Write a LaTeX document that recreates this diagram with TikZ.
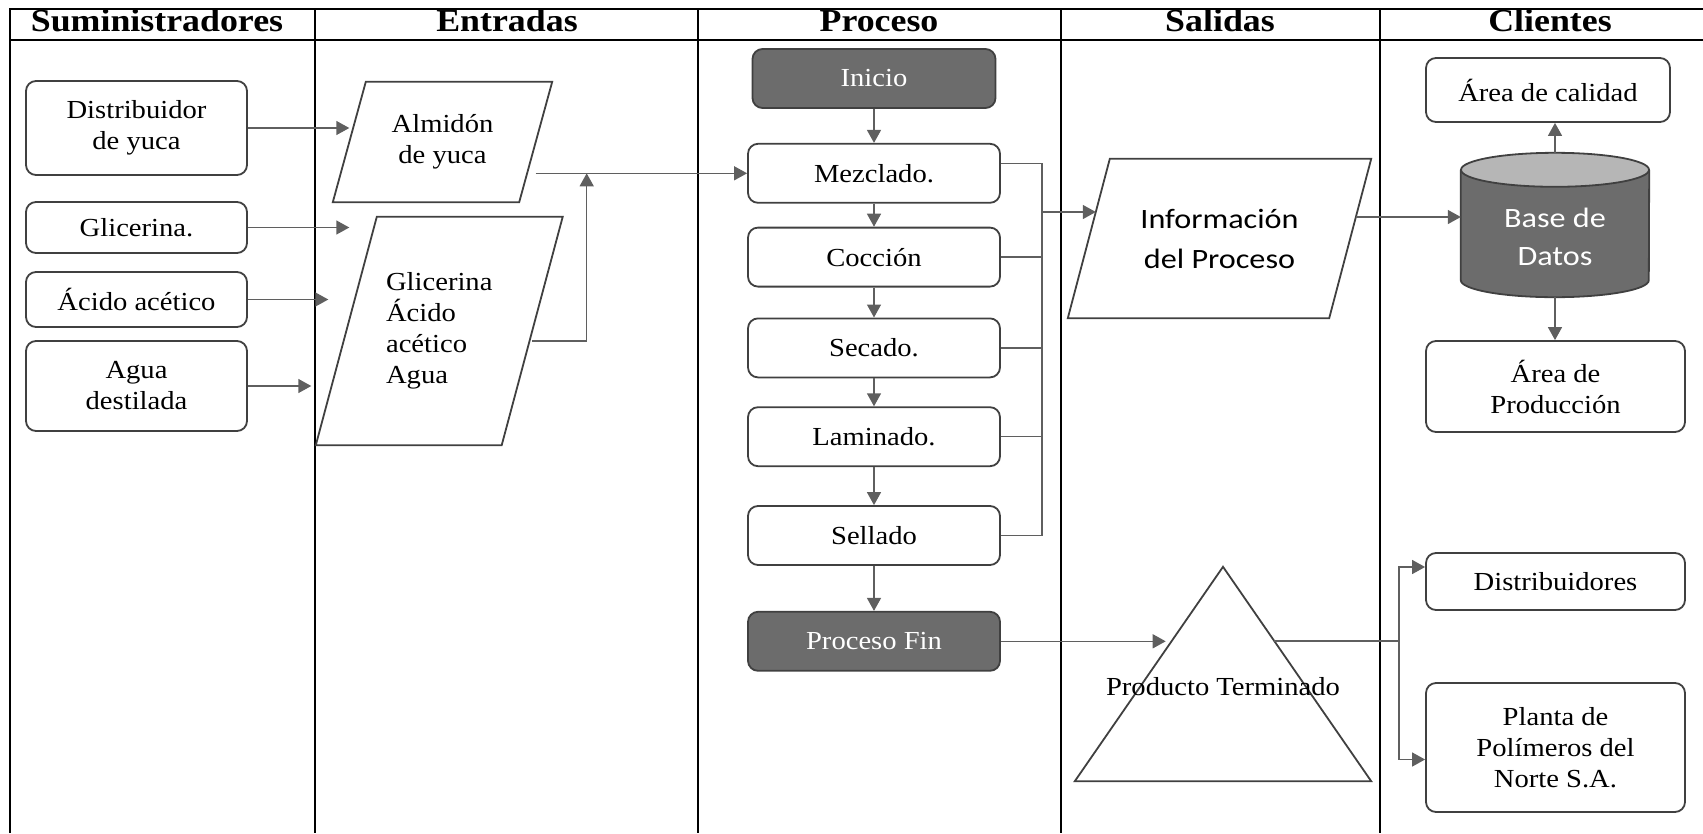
\documentclass[tikz,border=0pt]{standalone}
\usepackage{fontspec}
\setmainfont{Liberation Serif}[FakeStretch=1.1]
\newfontfamily\cabfont{Liberation Serif}[FakeStretch=1.12]
\newfontfamily\calibri{Carlito}[FakeStretch=1.15]
\usetikzlibrary{positioning, calc, arrows.meta}
\definecolor{borde}{RGB}{64,64,64}
\definecolor{gris}{RGB}{95,95,95}
\definecolor{oscuro}{RGB}{108,108,108}
\definecolor{claro}{RGB}{182,182,182}

\begin{document}
\begin{tikzpicture}[
        x=1pt, y=1pt,
        caja/.style={rectangle, draw=borde, line width=1.8pt, fill=white,
                     rounded corners=10pt, align=center, minimum width=221pt,
                     inner sep=2pt, font=\fontsize{26}{31}\selectfont},
        paso/.style={caja, minimum width=252pt, minimum height=59pt},
        extremo/.style={paso, fill=oscuro, text=white},
        cliente/.style={caja, minimum width=259pt},
        datos/.style={rectangle, align=center, inner sep=0pt,
                      font=\fontsize{26}{31}\selectfont},
        forma/.style={draw=borde, line width=1.8pt},
        cabecera/.style={font=\cabfont\bfseries\fontsize{32}{36}\selectfont, anchor=base},
        flecha/.style={-{Triangle[length=13pt, width=14pt]}, draw=gris, line width=1.4pt},
        conector/.style={draw=gris, line width=1.4pt},
        marco/.style={black, line width=1.2pt},
    ]
    \useasboundingbox (0,0) rectangle (1703,-833);

    % ---- swimlane frame ----
    \draw[marco] (10,-833) -- (10,-9) -- (1703,-9);
    \draw[marco] (10,-40) -- (1703,-40);
    \foreach \x in {315, 698, 1061, 1380}
        \draw[marco] (\x,-9) -- (\x,-833);

    \foreach \x/\t [count=\i] in {157/Suministradores, 507/Entradas, 879/Proceso,
                                  1220/Salidas, 1550/Clientes}
        \node[cabecera] (h\i) at (\x,-31) {\t};

    % ---- Suministradores ----
    \node[caja, minimum height=94pt] (dist) at (136.5,-128) {Distribuidor\\de yuca};
    \node[caja, minimum height=51pt] (glic) at (136.5,-227.5) {Glicerina.};
    \node[caja, minimum height=55pt] (acido) at (136.5,-299.5) {Ácido acético};
    \node[caja, minimum height=90pt] (agua) at (136.5,-386) {Agua\\destilada};

    % ---- Entradas (parallelograms) ----
    \node[datos, minimum width=186pt, minimum height=120pt] (almidon) at (442.5,-142)
        {Almidón\\de yuca};
    \node[datos, align=left, minimum width=185.5pt, minimum height=228pt] (mezcla)
        at (439.25,-331) {Glicerina\\Ácido\\acético\\Agua};

    % ---- Salidas ----
    \node[datos, font=\calibri\fontsize{28}{40}\selectfont, minimum width=261pt,
          minimum height=159pt] (info) at (1219.5,-238.5) {Información\\del Proceso};

    \foreach \n/\s in {almidon/16.5, mezcla/30.5, info/21}
        \draw[forma] ([xshift=\s]\n.north west) -- ([xshift=\s]\n.north east)
            -- ([xshift=-\s]\n.south east) -- ([xshift=-\s]\n.south west) -- cycle;

    \draw[flecha] (dist.east) -- (almidon.west |- dist.east);
    \draw[flecha] (glic.east) -- (almidon.west |- glic.east);
    \draw[flecha, shorten >=21pt] (acido.east) -- (almidon.west |- acido.east);
    \draw[flecha, shorten >=38pt] (agua.east) -- (almidon.west |- agua.east);

    % ---- Proceso ----
    \node[extremo, minimum width=243pt] (ini) at (874,-78.5) {Inicio};
    \node[paso, below=34pt of ini] (p1) {Mezclado.};
    \node[paso, below=23pt of p1] (p2) {Cocción};
    \node[paso, below=30pt of p2] (p3) {Secado.};
    \node[paso, below=28pt of p3] (p4) {Laminado.};
    \node[paso, below=38pt of p4] (p5) {Sellado};
    \node[extremo, below=45pt of p5] (fin) {Proceso Fin};

    \foreach \a/\b in {ini/p1, p1/p2, p2/p3, p3/p4, p4/p5, p5/fin}
        \draw[flecha] (\a) -- (\b);

    \coordinate (junta) at ($(almidon.east |- p1.west)+(51,0)$);
    \draw[flecha] (almidon.east |- p1.west) -- (p1.west);
    \draw[flecha] ([yshift=-10pt]mezcla.east) -| (junta);

    % ---- process steps -> information ----
    \coordinate (bus) at (1042,-163);
    \draw[conector] ([yshift=10pt]p1.east) -| (bus |- p5.east) -- (p5.east);
    \foreach \n in {p2, p3, p4}
        \draw[conector] (\n.east) -- (\n.east -| bus);
    \coordinate (entinfo) at ([xshift=7pt, yshift=26.5pt]info.west);
    \draw[flecha] (bus |- entinfo) -- (entinfo);

    % ---- Clientes ----
    \node[cliente, minimum width=244pt, minimum height=64pt] (cal) at (1548,-90)
        {Área de calidad};
    \node[cliente, minimum height=91pt] (aprod) at (1555.5,-386.5) {Área de\\Producción};
    \node[cliente, minimum height=57pt] (dist2) at (1555.5,-581.5) {Distribuidores};
    \node[cliente, minimum height=129pt] (planta) at (1555.5,-747.5)
        {Planta de\\Polímeros del\\Norte S.A.};

    % database cylinder
    \node[rectangle, minimum width=188pt, minimum height=144pt, inner sep=0pt] (bd)
        at (1555,-225) {};
    \draw[forma, fill=oscuro] ([yshift=-17pt]bd.north west) -- ([yshift=17pt]bd.south west)
        arc[start angle=180, end angle=360, x radius=94pt, y radius=17pt]
        -- ([yshift=-17pt]bd.north east);
    \draw[forma, fill=claro] ([yshift=-17pt]bd.north) ellipse[x radius=94pt, y radius=17pt];
    \node[datos, font=\calibri\fontsize{28}{38}\selectfont, text=white] (bdtxt)
        at ([yshift=-12pt]bd.center) {Base de\\Datos};

    \coordinate (salinfo) at ([xshift=6pt, yshift=21.5pt]info.east);
    \draw[flecha] (salinfo) -- (salinfo -| bd.west);
    \draw[flecha] (bd.north) -- (bd.north |- cal.south);
    \draw[flecha] (bd.south) -- (bd.south |- aprod.north);

    % ---- producto terminado ----
    \node[rectangle, minimum width=296pt, minimum height=214pt, inner sep=0pt] (tri)
        at (1223,-674) {};
    \draw[forma] (tri.north) -- (tri.south west) -- (tri.south east) -- cycle;
    \node[datos] (prodtxt) at ([yshift=-13pt]tri.center) {Producto Terminado};

    \coordinate (entprod) at ($(tri.north)!0.346!(tri.south west)$);
    \coordinate (salprod) at ($(tri.north)!0.346!(tri.south east)$);
    \draw[flecha, shorten >=6pt] (fin.east) -- (fin.east -| entprod);

    \coordinate (bus2) at (1399,-567);
    \draw[conector] (salprod) -- (salprod -| bus2);
    \draw[flecha] (salprod -| bus2) |- ([yshift=14.5pt]dist2.west);
    \draw[flecha] (salprod -| bus2) |- ([yshift=-12pt]planta.west);

\end{tikzpicture}
\end{document}
